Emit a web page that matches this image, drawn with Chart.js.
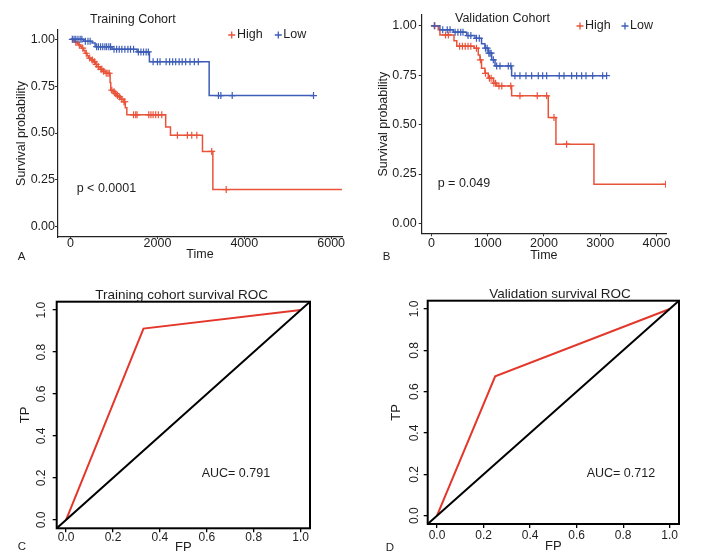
<!DOCTYPE html>
<html><head><meta charset="utf-8">
<script src="https://cdn.jsdelivr.net/npm/chart.js@4/dist/chart.umd.min.js"></script>
<style>
html,body{margin:0;padding:0;background:#fff;}
#wrap{position:relative;width:706px;height:558px;background:#fff;}
canvas{position:absolute;left:0;top:0;}
</style></head><body>
<div id="wrap">
<canvas id="cA" width="706" height="558"></canvas>
<canvas id="cB" width="706" height="558"></canvas>
<canvas id="cC" width="706" height="558"></canvas>
<canvas id="cD" width="706" height="558"></canvas>
</div>
<script>
// ---------------- DATA ----------------
const groupLabels = ['High', 'Low'];

// Training cohort KM (event time, survival after event)
const trainHighTime = [0, 60, 104, 150, 180, 230, 258, 300, 334, 380, 410, 470, 525, 570, 604, 680, 740, 795, 910, 925, 980, 1025, 1060, 1101, 1160, 1217, 1260, 1295, 2190, 2300, 3037, 3276, 6248];
const trainHighSurv = [1.0, 0.993, 0.985, 0.977, 0.97, 0.962, 0.953, 0.94, 0.926, 0.913, 0.90, 0.89, 0.88, 0.867, 0.854, 0.84, 0.83, 0.819, 0.77, 0.729, 0.72, 0.71, 0.70, 0.693, 0.68, 0.667, 0.635, 0.597, 0.532, 0.488, 0.402, 0.198, 0.198];
const trainHighCensor = [120, 200, 280, 360, 440, 500, 550, 590, 640, 700, 720, 760, 820, 860, 890, 950, 1000, 1040, 1080, 1130, 1180, 1230, 1250, 1450, 1500, 1530, 1800, 1850, 1900, 1960, 2020, 2100, 2460, 2690, 2790, 2907, 3250, 3583];

const trainLowTime = [0, 300, 495, 565, 956, 1532, 1815, 3191, 5594];
const trainLowSurv = [1.0, 0.99, 0.98, 0.961, 0.947, 0.933, 0.881, 0.70, 0.70];
const trainLowCensor = [40, 80, 120, 170, 220, 260, 340, 400, 450, 600, 640, 690, 740, 790, 830, 880, 920, 1000, 1060, 1120, 1180, 1250, 1320, 1380, 1450, 1560, 1620, 1680, 1740, 1790, 1900, 2000, 2060, 2200, 2280, 2350, 2420, 2500, 2570, 2650, 2750, 2850, 2940, 3405, 3460, 3722, 5594];

// Validation cohort KM
const valHighTime = [0, 120, 150, 400, 450, 760, 832, 862, 890, 950, 1010, 1100, 1160, 1425, 2077, 2213, 2889, 4164];
const valHighSurv = [1.0, 0.98, 0.954, 0.925, 0.897, 0.887, 0.853, 0.828, 0.786, 0.76, 0.735, 0.71, 0.696, 0.646, 0.536, 0.401, 0.198, 0.198];
const valHighCensor = [60, 250, 300, 500, 550, 600, 650, 700, 800, 870, 960, 1030, 1060, 1110, 1140, 1200, 1250, 1410, 1573, 1881, 2048, 2178, 2403, 4164];

const valLowTime = [0, 150, 390, 625, 773, 890, 950, 1010, 1070, 1130, 1425, 3114];
const valLowSurv = [1.0, 0.98, 0.968, 0.951, 0.937, 0.91, 0.887, 0.862, 0.828, 0.797, 0.748, 0.748];
const valLowCensor = [50, 200, 280, 330, 420, 470, 520, 560, 650, 700, 800, 850, 960, 990, 1020, 1040, 1060, 1100, 1159, 1218, 1366, 1410, 1484, 1573, 1680, 1781, 1899, 1977, 2048, 2272, 2356, 2492, 2581, 2670, 2747, 2866, 3044, 3114];

// ROC curves
const trainFP = [0, 0.33, 1];
const trainTP = [0, 0.912, 1];
const valFP = [0, 0.25, 1];
const valTP = [0, 0.674, 1];
const diagLine = [-0.04, 1.04];

// Tick labels
const survTicks = [0, 0.25, 0.5, 0.75, 1];
const trainTimeTicks = [0, 2000, 4000, 6000];
const valTimeTicks = [0, 1000, 2000, 3000, 4000];
const rocTicks = [0, 0.2, 0.4, 0.6, 0.8, 1.0];

// Texts
const trainTitle = 'Training Cohort';
const valTitle = 'Validation Cohort';
const trainPval = 'p < 0.0001';
const valPval = 'p = 0.049';
const rocTrainTitle = 'Training cohort survival ROC';
const rocValTitle = 'Validation survival ROC';
const trainAUC = 'AUC= 0.791';
const valAUC = 'AUC= 0.712';

// ---------------- STYLE ----------------
const FONT = "'Liberation Sans', Arial, Helvetica, sans-serif";
const RED = '#E9533A';
const BLUE = '#3D5DB8';
const ROC_RED = '#E4372B';
const TXT = '#1e1e1e';
Chart.defaults.font.family = FONT;
Chart.defaults.color = TXT;

function pts(xs, ys) { return xs.map((x, i) => ({x: x, y: ys[i]})); }
function survAt(times, surv, t) {
  let s = surv[0];
  for (let i = 0; i < times.length; i++) if (times[i] <= t) s = surv[i];
  return s;
}
function censorPts(ct, times, surv) { return ct.map(t => ({x: t, y: survAt(times, surv, t)})); }
function setTicks(arr) { return s => { s.ticks = arr.map(v => ({value: v})); }; }

const textPlugin = {
  id: 'texts',
  afterDraw(chart, args, opts) {
    const ctx = chart.ctx;
    (opts.items || []).forEach(it => {
      ctx.save();
      ctx.font = it.size + 'px ' + FONT;
      ctx.fillStyle = it.color || TXT;
      ctx.textAlign = it.align || 'left';
      ctx.textBaseline = 'middle';
      ctx.fillText(it.text, it.x, it.y);
      ctx.restore();
    });
    (opts.legend || []).forEach(it => {
      ctx.save();
      ctx.strokeStyle = it.color; ctx.lineWidth = 1.3;
      ctx.beginPath(); ctx.moveTo(it.mx - 3.5, it.y); ctx.lineTo(it.mx + 3.5, it.y);
      ctx.moveTo(it.mx, it.y - 3.5); ctx.lineTo(it.mx, it.y + 3.5); ctx.stroke();
      ctx.font = it.size + 'px ' + FONT;
      ctx.fillStyle = TXT; ctx.textAlign = 'left'; ctx.textBaseline = 'middle';
      ctx.fillText(it.text, it.tx, it.y);
      ctx.restore();
    });
  }
};

const framePlugin = {
  id: 'frame',
  afterDatasetsDraw(chart, args, opts) {
    if (!opts.show) return;
    const a = chart.chartArea, ctx = chart.ctx;
    ctx.save();
    ctx.strokeStyle = '#000'; ctx.lineWidth = 2;
    ctx.strokeRect(a.left, a.top, a.right - a.left, a.bottom - a.top);
    ctx.restore();
  }
};

// box: chart-area edges; tcx: y-title centre x; tcy: x-title centre y
function geom(box, tcx, tcy, fs) {
  const half = fs * 1.2 / 2;
  const padLeft = tcx - half;
  const scaleBottom = tcy + half;
  return {
    padding: {left: padLeft, top: box.t, right: 706 - box.r, bottom: 558 - scaleBottom},
    yW: box.l - padLeft,
    xH: scaleBottom - box.b
  };
}

function kmChart(id, o) {
  const g = geom(o.box, o.tcx, o.tcy, 12.5);
  return new Chart(document.getElementById(id), {
    type: 'scatter',
    data: {datasets: [
      {label: groupLabels[1] + ' censored', data: censorPts(o.loC, o.loT, o.loS), showLine: false, pointStyle: 'cross', pointRadius: 3.5, pointBorderWidth: 1.2, borderColor: BLUE, backgroundColor: BLUE},
      {label: groupLabels[0] + ' censored', data: censorPts(o.hiC, o.hiT, o.hiS), showLine: false, pointStyle: 'cross', pointRadius: 3.5, pointBorderWidth: 1.2, borderColor: RED, backgroundColor: RED},
      {label: groupLabels[1], data: pts(o.loT, o.loS), showLine: true, stepped: true, borderColor: BLUE, borderWidth: 1.5, pointRadius: 0, fill: false},
      {label: groupLabels[0], data: pts(o.hiT, o.hiS), showLine: true, stepped: true, borderColor: RED, borderWidth: 1.5, pointRadius: 0, fill: false}
    ]},
    plugins: [textPlugin],
    options: {
      responsive: false, animation: false, events: [],
      layout: {padding: g.padding},
      plugins: {legend: {display: false}, tooltip: {enabled: false}, texts: o.texts},
      scales: {
        x: {type: 'linear', min: o.xmin, max: o.xmax,
            afterBuildTicks: setTicks(o.xTicks), afterFit: s => { s.height = g.xH; },
            ticks: {autoSkip: false, maxRotation: 0, minRotation: 0, padding: o.xPad, font: {size: 12.5}, color: TXT, callback: v => String(v)},
            grid: {drawOnChartArea: false, drawTicks: true, tickLength: o.xTl, color: '#333', lineWidth: 1},
            border: {display: true, color: '#222', width: 1.2},
            title: {display: true, text: 'Time', font: {size: 12.5}, color: TXT, padding: 0}},
        y: {type: 'linear', min: o.ymin, max: o.ymax,
            afterBuildTicks: setTicks(survTicks), afterFit: s => { s.width = g.yW; },
            ticks: {autoSkip: false, padding: o.yPad, font: {size: 12.5}, color: TXT, callback: v => v.toFixed(2)},
            grid: {drawOnChartArea: false, drawTicks: true, tickLength: 3, color: '#333', lineWidth: 1},
            border: {display: true, color: '#222', width: 1.2},
            title: {display: true, text: 'Survival probability', font: {size: 12.5}, color: TXT, padding: 0}}
      }
    }
  });
}

function rocChart(id, o) {
  const g = geom(o.box, o.tcx, o.tcy, 13);
  return new Chart(document.getElementById(id), {
    type: 'scatter',
    data: {datasets: [
      {label: 'reference', data: pts(diagLine, diagLine), showLine: true, borderColor: '#000', borderWidth: 2, pointRadius: 0},
      {label: 'ROC', data: pts(o.fp, o.tp), showLine: true, borderColor: ROC_RED, borderWidth: 2, pointRadius: 0}
    ]},
    plugins: [textPlugin, framePlugin],
    options: {
      responsive: false, animation: false, events: [],
      layout: {padding: g.padding},
      plugins: {legend: {display: false}, tooltip: {enabled: false}, texts: o.texts, frame: {show: true}},
      scales: {
        x: {type: 'linear', min: -0.04, max: 1.04,
            afterBuildTicks: setTicks(rocTicks), afterFit: s => { s.height = g.xH; },
            ticks: {autoSkip: false, maxRotation: 0, padding: o.xPad, font: {size: 12}, color: TXT, callback: v => v.toFixed(1)},
            grid: {drawOnChartArea: false, drawTicks: true, tickLength: 4, color: '#000', lineWidth: 1.3},
            border: {display: false},
            title: {display: true, text: 'FP', font: {size: 13}, color: TXT, padding: 0}},
        y: {type: 'linear', min: -0.04, max: 1.04,
            afterBuildTicks: setTicks(rocTicks), afterFit: s => { s.width = g.yW; },
            ticks: {autoSkip: false, minRotation: 90, maxRotation: 90, crossAlign: 'center', padding: o.yPad, font: {size: 12}, color: TXT, callback: v => v.toFixed(1)},
            grid: {drawOnChartArea: false, drawTicks: true, tickLength: 4, color: '#000', lineWidth: 1.3},
            border: {display: false},
            title: {display: true, text: 'TP', font: {size: 13}, color: TXT, padding: 0}}
      }
    }
  });
}

kmChart('cA', {
  box: {l: 58, t: 30, r: 342, b: 237}, tcx: 21.7, tcy: 255,
  xmin: -290, xmax: 6250, ymin: -0.055, ymax: 1.05, xTicks: trainTimeTicks, xPad: -3, xTl: 2, yPad: 0,
  hiT: trainHighTime, hiS: trainHighSurv, hiC: trainHighCensor,
  loT: trainLowTime, loS: trainLowSurv, loC: trainLowCensor,
  texts: {
    items: [
      {text: trainTitle, x: 90, y: 20, size: 12.5},
      {text: trainPval, x: 76.7, y: 188.3, size: 12.5},
      {text: 'A', x: 21.7, y: 256.7, size: 11.5, align: 'center'}
    ],
    legend: [
      {color: RED, mx: 231.7, tx: 237, y: 35, text: groupLabels[0], size: 12.5},
      {color: BLUE, mx: 278.3, tx: 283.3, y: 35, text: groupLabels[1], size: 12.5}
    ]
  }
});

kmChart('cB', {
  box: {l: 421.7, t: 15, r: 666, b: 233.3}, tcx: 383.3, tcy: 256,
  xmin: -174, xmax: 4170, ymin: -0.05, ymax: 1.055, xTicks: valTimeTicks, xPad: 0, xTl: 3, yPad: 2,
  hiT: valHighTime, hiS: valHighSurv, hiC: valHighCensor,
  loT: valLowTime, loS: valLowSurv, loC: valLowCensor,
  texts: {
    items: [
      {text: valTitle, x: 455, y: 18.3, size: 12.5},
      {text: valPval, x: 437.7, y: 184, size: 12.5},
      {text: 'B', x: 386.7, y: 257.3, size: 11.5, align: 'center'}
    ],
    legend: [
      {color: RED, mx: 580, tx: 585, y: 26, text: groupLabels[0], size: 12.5},
      {color: BLUE, mx: 625, tx: 630, y: 26, text: groupLabels[1], size: 12.5}
    ]
  }
});

rocChart('cC', {
  box: {l: 56.7, t: 301.7, r: 310, b: 528.3}, tcx: 25, tcy: 547.5, xPad: -1.5, yPad: 2.5,
  fp: trainFP, tp: trainTP,
  texts: {items: [
    {text: rocTrainTitle, x: 181.7, y: 295, size: 13.5, align: 'center'},
    {text: trainAUC, x: 201.7, y: 473.3, size: 12.5},
    {text: 'C', x: 22, y: 546.7, size: 11.5, align: 'center'}
  ]}
});

rocChart('cD', {
  box: {l: 427.7, t: 300.7, r: 679, b: 524}, tcx: 396.7, tcy: 546, xPad: 0, yPad: 1,
  fp: valFP, tp: valTP,
  texts: {items: [
    {text: rocValTitle, x: 560, y: 294, size: 13.5, align: 'center'},
    {text: valAUC, x: 586.7, y: 474, size: 12.5},
    {text: 'D', x: 390, y: 548, size: 11.5, align: 'center'}
  ]}
});
</script>
</body></html>
